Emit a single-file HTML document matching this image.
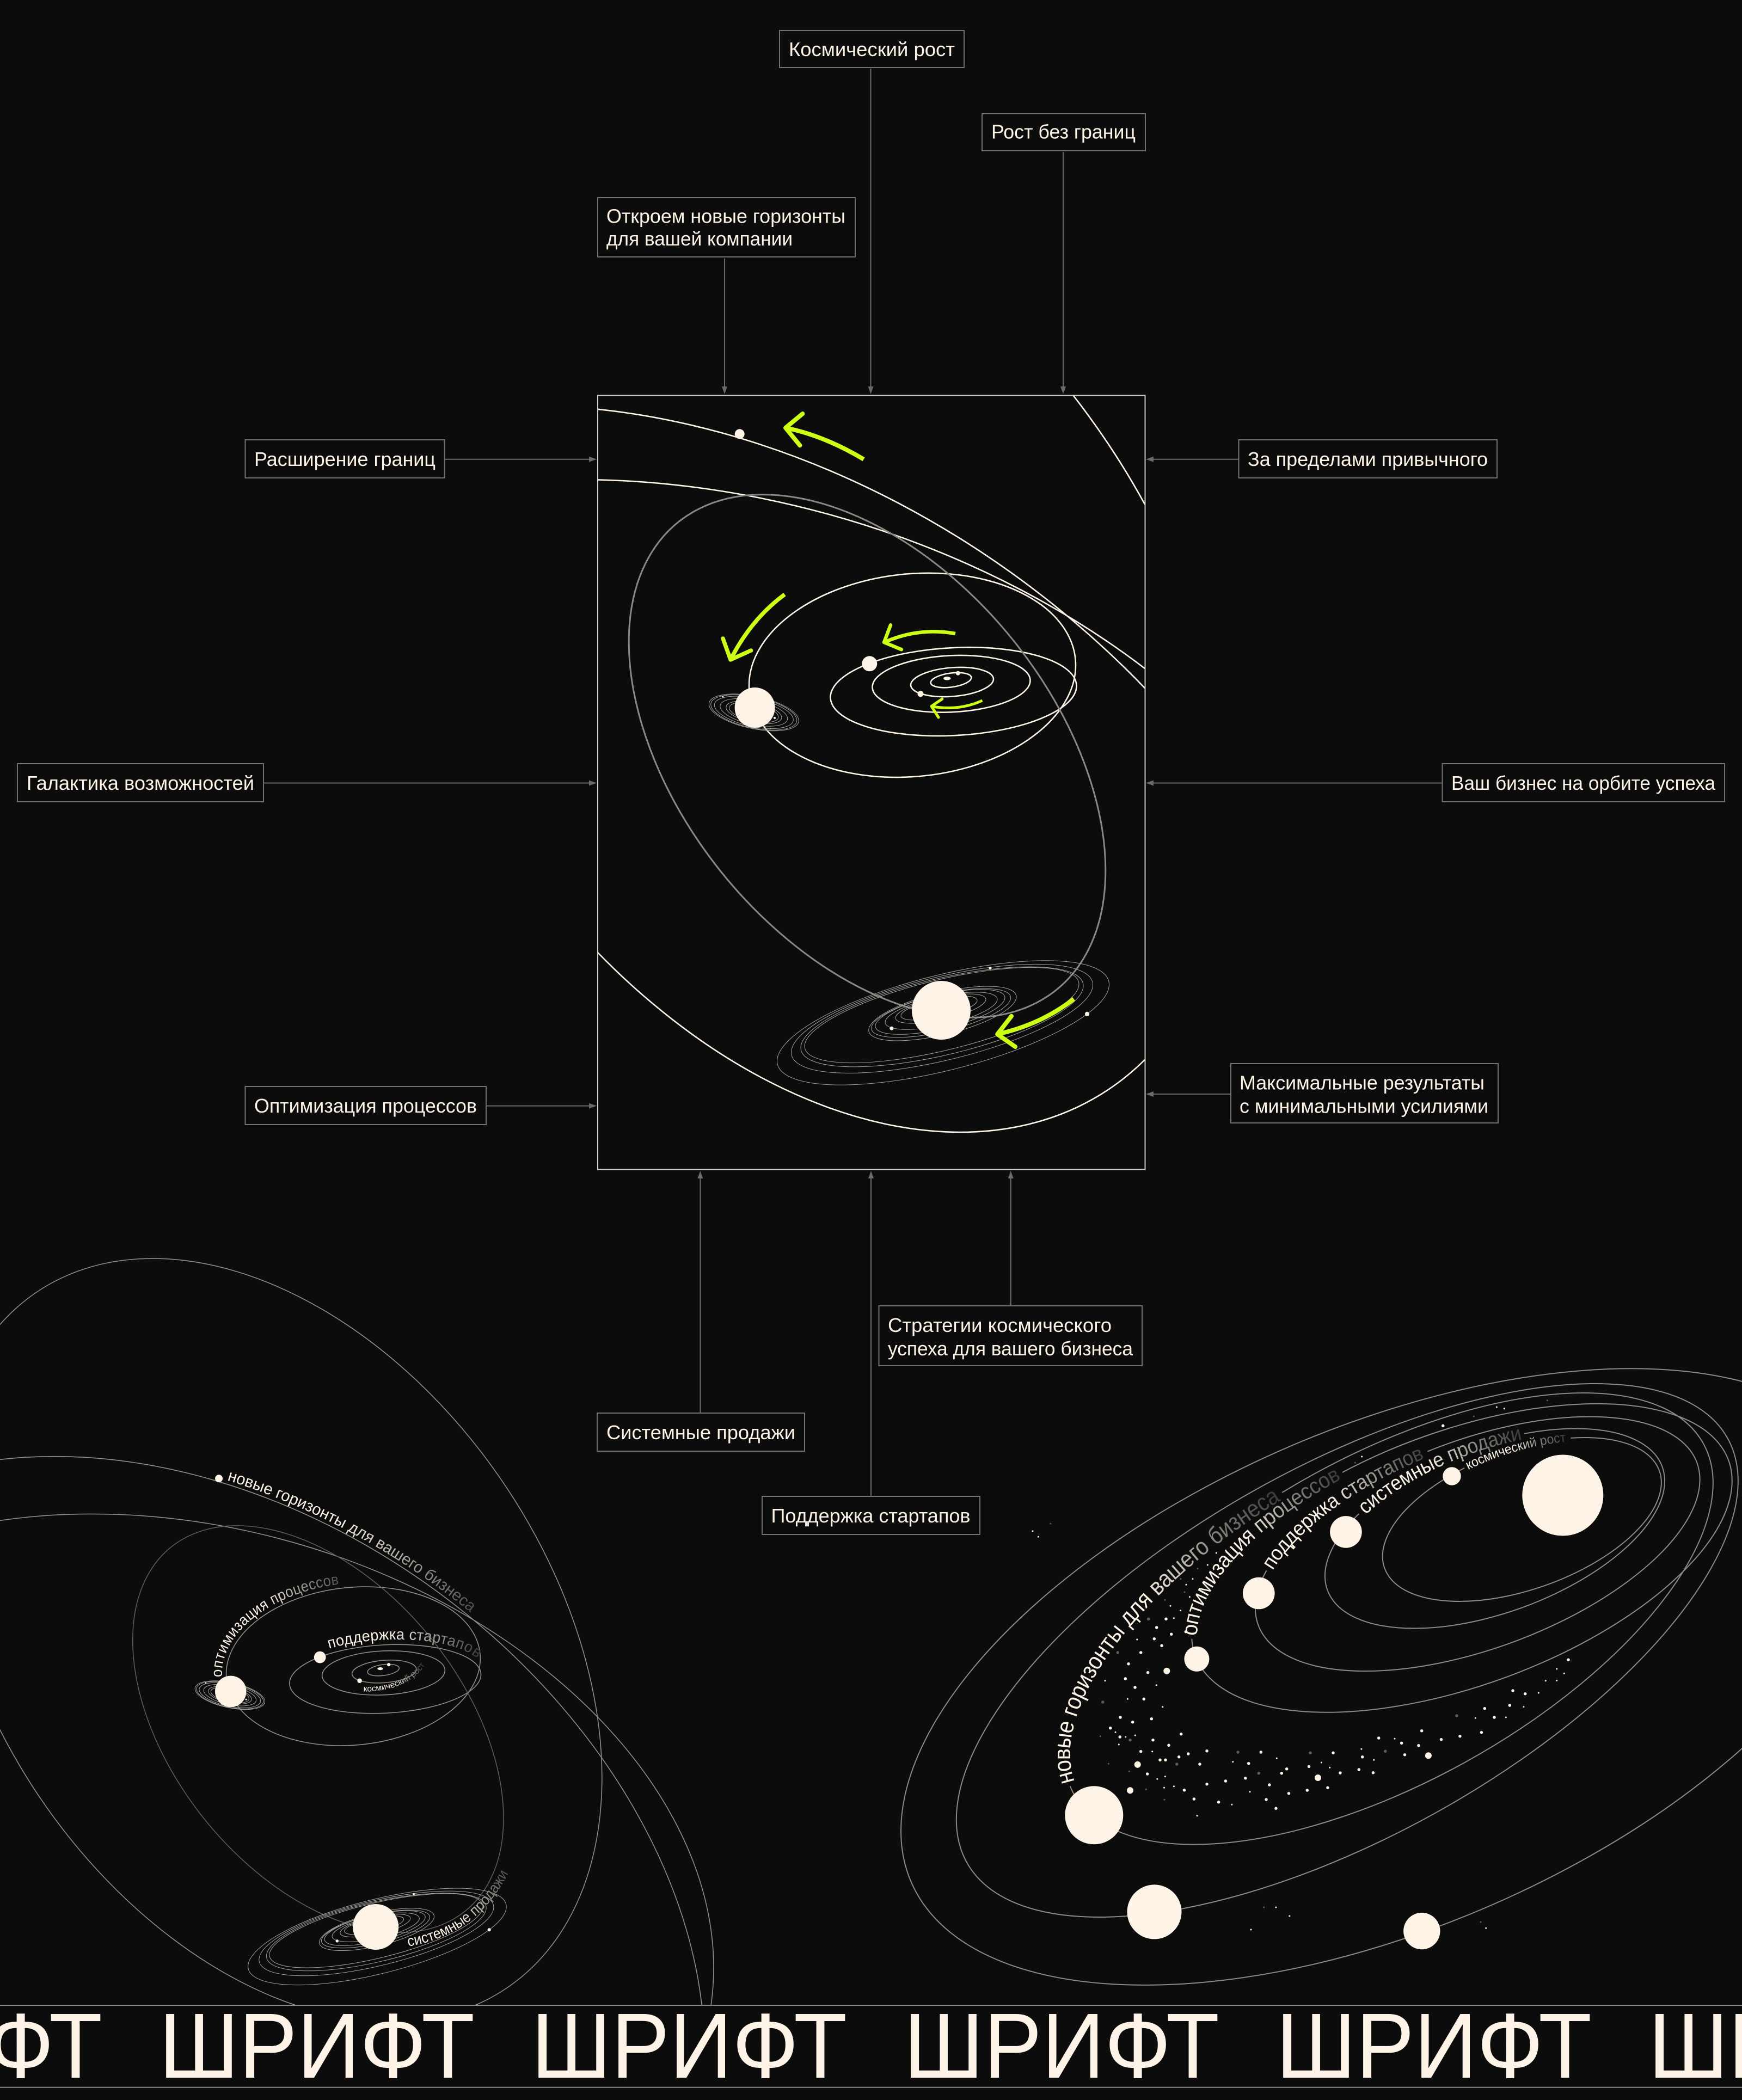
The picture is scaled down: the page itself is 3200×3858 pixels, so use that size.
<!DOCTYPE html>
<html lang="ru">
<head>
<meta charset="utf-8">
<title>Космический рост</title>
<style>
html,body{margin:0;padding:0;background:#0c0c0c;width:3200px;height:3858px;overflow:hidden}
svg{display:block}
text{font-family:"Liberation Sans","Noto Sans CJK SC",sans-serif}
.l{fill:#fdf4e7;font-size:36px}
.b{fill:none;stroke:#73726e;stroke-width:2}
.c{stroke:#6b6a67;stroke-width:2}
.h{fill:#6b6a67}
.o *,.o{vector-effect:non-scaling-stroke}
.y{fill:none;stroke:#ccff14;stroke-linejoin:round}
.t{fill:#fdf4e7;font-size:170px}
</style>
</head>
<body>
<svg xmlns="http://www.w3.org/2000/svg" width="3200" height="3858" viewBox="0 0 3200 3858">
<defs>
<clipPath id="cf"><rect x="1098" y="727" width="1005" height="1421"/></clipPath>
<clipPath id="cs"><rect x="0" y="2200" width="3200" height="1484"/></clipPath>

<g id="inner" class="o" fill="none">
<circle r="1" transform="matrix(300,-18.4,0,186.7,1676,1240.4)"/>
<circle r="1" transform="matrix(226,-10.3,0,80.7,1751.5,1270.6)"/>
<circle r="1" transform="matrix(145,-6,0,52,1747.5,1256.3)"/>
<circle r="1" transform="matrix(76,-5.4,0,26.5,1749,1253)"/>
<circle r="1" transform="matrix(37.3,-4.5,0,13,1747,1249.5)"/>
</g>
<circle id="greyorb" class="o" fill="none" r="1" transform="matrix(437.8,210,0,432,1593,1389)"/>

<g id="rings" class="o" fill="none" stroke="#a5a39d" stroke-width="1">
<circle r="1" transform="matrix(305,-70.3,0,90,1732.5,1879)"/>
<circle r="1" transform="matrix(277,-62,0,78.5,1730.5,1871.4)"/>
<circle r="1" transform="matrix(259.5,-57,0,72,1730.5,1868)"/>
<circle r="1" transform="matrix(252,-57,0,66.5,1730,1865)"/>
<circle r="1" transform="matrix(135.6,-30.5,0,39.6,1731.4,1862)"/>
<circle r="1" transform="matrix(128,-28,0,35,1728.7,1861)"/>
<circle r="1" transform="matrix(119,-26,0,32,1727,1859)"/>
<circle r="1" transform="matrix(103,-21,0,27,1729,1857)"/>
<circle r="1" transform="matrix(83,-17,0,21,1728,1853)"/>
<circle r="1" transform="matrix(70,-14,0,17,1725,1852)"/>
<circle r="1" transform="matrix(82.5,15.2,0,30.2,1384.8,1308.8)"/>
<circle r="1" transform="matrix(79,14.6,0,28.9,1384.8,1308.8)"/>
<circle r="1" transform="matrix(72.5,13.4,0,26.5,1384.8,1308.8)"/>
<circle r="1" transform="matrix(62,11.4,0,22.7,1384.8,1308.8)"/>
<circle r="1" transform="matrix(51,9.4,0,18.7,1384.8,1308.8)"/>
<circle r="1" transform="matrix(45,8.3,0,16.5,1384.8,1308.8)"/>
</g>

<g id="planets" fill="#fdf4e7">
<circle cx="1358.7" cy="797.3" r="9"/>
<circle cx="1386.6" cy="1300" r="37"/>
<circle cx="1597.3" cy="1219.3" r="14"/>
<circle cx="1691" cy="1274.7" r="5.5"/>
<circle cx="1759.8" cy="1236.7" r="4"/>
<ellipse cx="1739.7" cy="1246.3" rx="6.7" ry="3.3"/>
<circle cx="1327.7" cy="1280" r="1.5"/>
<circle cx="1423" cy="1319" r="2"/>
<circle cx="1729" cy="1856" r="54"/>
<circle cx="1637.9" cy="1889.3" r="3.5"/>
<circle cx="1818.9" cy="1778.6" r="2.5"/>
<circle cx="1997" cy="1862.8" r="4"/>
</g>

<path id="pa" d="M.043 -.999A1 1 0 0 1 .58 -.8146" transform="matrix(1181,324,0,1030.2,1324.3,1825)"/>
<path id="pb" d="M-.999 .04A1 1 0 0 1 .12 -.9928" transform="matrix(300,-18.4,0,186.7,1676,1240.4)"/>
<path id="pc" d="M-.573 -.82A1 1 0 0 1 .967 -.255" transform="matrix(226,-10.3,0,80.7,1751.5,1270.6)"/>
<path id="pd" d="M1700 1300C1750 1302 1815 1285 1845 1238"/>
<path id="pe" d="M1806 1902C1880 1890 1995 1850 2058 1695"/>

<path id="t1" d="M-.4126 -.9109A1 1 0 0 1 .35 -.937" transform="matrix(256,-67.7,0,134.4,2795.7,2791.5)"/>
<path id="t2" d="M-.8007 -.5992A1 1 0 0 1 .1739 -.9848" transform="matrix(312,-87.2,0,161.5,2746,2808)"/>
<path id="t3" d="M-.95 -.313A1 1 0 0 1 -.226 -.974" transform="matrix(408.3,-118,0,201.7,2714.4,2836.3)"/>
<path id="t4" d="M-.9996 .027A1 1 0 0 1 -.4424 -.897" transform="matrix(496.3,-141.7,0,245.4,2685.4,2862.4)"/>
<path id="t5" d="M-.982 .1908A1 1 0 0 1 -.3 -.954" transform="matrix(596,-248.8,0,331.8,2551,2973.7)"/>

<linearGradient id="g1" gradientUnits="userSpaceOnUse" x1="2693" y1="2700" x2="2880" y2="2642"><stop offset=".45" stop-color="#fdf4e7"/><stop offset=".72" stop-color="#8a8882"/><stop offset="1" stop-color="#3c3c3a"/></linearGradient>
<linearGradient id="g2" gradientUnits="userSpaceOnUse" x1="2502" y1="2782" x2="2792" y2="2637"><stop offset=".45" stop-color="#fdf4e7"/><stop offset=".75" stop-color="#8a8882"/><stop offset="1" stop-color="#3c3c3a"/></linearGradient>
<linearGradient id="g3" gradientUnits="userSpaceOnUse" x1="2329" y1="2885" x2="2617" y2="2670"><stop offset=".45" stop-color="#fdf4e7"/><stop offset=".75" stop-color="#8a8882"/><stop offset="1" stop-color="#3c3c3a"/></linearGradient>
<linearGradient id="g4" gradientUnits="userSpaceOnUse" x1="2189" y1="3011" x2="2465" y2="2720"><stop offset=".5" stop-color="#fdf4e7"/><stop offset=".78" stop-color="#8a8882"/><stop offset="1" stop-color="#3c3c3a"/></linearGradient>
<linearGradient id="g5" gradientUnits="userSpaceOnUse" x1="1961" y1="3283" x2="2350" y2="2757"><stop offset=".55" stop-color="#fdf4e7"/><stop offset=".8" stop-color="#8a8882"/><stop offset="1" stop-color="#3c3c3a"/></linearGradient>
<linearGradient id="ga" gradientUnits="userSpaceOnUse" x1="1375" y1="800" x2="1985" y2="1145"><stop offset=".4" stop-color="#fdf4e7"/><stop offset=".75" stop-color="#8a8882"/><stop offset="1" stop-color="#3c3c3a"/></linearGradient>
<linearGradient id="gb" gradientUnits="userSpaceOnUse" x1="1374" y1="1238" x2="1684" y2="1056"><stop offset=".4" stop-color="#fdf4e7"/><stop offset=".75" stop-color="#8a8882"/><stop offset="1" stop-color="#3c3c3a"/></linearGradient>
<linearGradient id="gc" gradientUnits="userSpaceOnUse" x1="1622" y1="1210" x2="1970" y2="1240"><stop offset=".4" stop-color="#fdf4e7"/><stop offset=".75" stop-color="#8a8882"/><stop offset="1" stop-color="#3c3c3a"/></linearGradient>
<linearGradient id="gd" gradientUnits="userSpaceOnUse" x1="1700" y1="1300" x2="1845" y2="1238"><stop offset=".45" stop-color="#fdf4e7"/><stop offset=".75" stop-color="#8a8882"/><stop offset="1" stop-color="#3c3c3a"/></linearGradient>
<linearGradient id="ge" gradientUnits="userSpaceOnUse" x1="1806" y1="1902" x2="2050" y2="1712"><stop offset=".4" stop-color="#fdf4e7"/><stop offset=".72" stop-color="#8a8882"/><stop offset="1" stop-color="#3c3c3a"/></linearGradient>
</defs>

<rect width="3200" height="3858" fill="#0c0c0c"/>

<!-- main frame -->
<g clip-path="url(#cf)">
<g class="o" fill="none" stroke="#fdf4e7" stroke-width="2.6">
<circle r="1" transform="matrix(780,324.4,0,840.8,1483,1178.8)"/>
<circle r="1" transform="matrix(1181,324,0,1030.2,1324.3,1825)"/>
<circle r="1" transform="matrix(1222.5,178.6,0,875,1304.5,1774)"/>
</g>
<use href="#inner" stroke="#fdf4e7" stroke-width="2.6"/>
<use href="#greyorb" stroke="#8a8882" stroke-width="3"/>
<use href="#rings"/>
<use href="#planets"/>
<g class="y" stroke-linecap="butt">
<path d="M1586.6 843.8Q1513 800 1443 786" stroke-width="8"/>
<path d="M1441.4 1092Q1379.7 1137.5 1342 1212" stroke-width="7.5"/>
<path d="M1755 1164Q1688 1152 1624 1180" stroke-width="6.5"/>
<path d="M1804.5 1287Q1759.8 1307 1711 1297.5" stroke-width="5"/>
<path d="M1972.5 1835.2Q1912.8 1882 1832.2 1900" stroke-width="8"/>
</g>
<g class="y" stroke-linecap="round">
<path d="M1474.4 760L1443 786L1469.5 818.3" stroke-width="8"/>
<path d="M1328 1173L1342 1212L1379.5 1195" stroke-width="7.5"/>
<path d="M1636 1148.3L1624 1180L1656 1193.3" stroke-width="6.5"/>
<path d="M1730.8 1284L1711 1297.5L1724 1318" stroke-width="5"/>
<path d="M1858 1866.8L1832.2 1900L1865 1923" stroke-width="8"/>
</g>
</g>
<rect x="1098" y="726.5" width="1005.5" height="1422" fill="none" stroke="#d6d2c9" stroke-width="2"/>

<!-- label boxes -->
<g class="b">
<rect x="1432" y="56" width="339" height="68"/>
<rect x="1804" y="209" width="300" height="68"/>
<rect x="1098" y="363" width="473" height="109"/>
<rect x="450.5" y="808" width="366" height="70"/>
<rect x="2275.5" y="808" width="474.5" height="70"/>
<rect x="32" y="1403" width="452" height="70"/>
<rect x="2649.5" y="1403" width="518.5" height="70"/>
<rect x="450.5" y="1996" width="442.5" height="70"/>
<rect x="2261" y="1954" width="491" height="109"/>
<rect x="1614.5" y="2399" width="483.5" height="110"/>
<rect x="1097" y="2596" width="381" height="70"/>
<rect x="1400" y="2749" width="400" height="70"/>
</g>
<text class="l" x="1449" y="102.8" textLength="305" lengthAdjust="spacingAndGlyphs">Космический рост</text>
<text class="l" x="1821" y="254.5" textLength="265" lengthAdjust="spacingAndGlyphs">Рост без границ</text>
<text class="l" x="1114" y="409.6" textLength="439" lengthAdjust="spacingAndGlyphs">Откроем новые горизонты</text>
<text class="l" x="1114" y="450.8" textLength="342" lengthAdjust="spacingAndGlyphs">для вашей компании</text>
<text class="l" x="467" y="856" textLength="333" lengthAdjust="spacingAndGlyphs">Расширение границ</text>
<text class="l" x="2292" y="856" textLength="441" lengthAdjust="spacingAndGlyphs">За пределами привычного</text>
<text class="l" x="49" y="1451" textLength="418" lengthAdjust="spacingAndGlyphs">Галактика возможностей</text>
<text class="l" x="2666" y="1451" textLength="485" lengthAdjust="spacingAndGlyphs">Ваш бизнес на орбите успеха</text>
<text class="l" x="467" y="2044" textLength="409" lengthAdjust="spacingAndGlyphs">Оптимизация процессов</text>
<text class="l" x="2277" y="2001.5" textLength="450" lengthAdjust="spacingAndGlyphs">Максимальные результаты</text>
<text class="l" x="2277" y="2044.5" textLength="457" lengthAdjust="spacingAndGlyphs">с минимальными усилиями</text>
<text class="l" x="1631" y="2447" textLength="411" lengthAdjust="spacingAndGlyphs">Стратегии космического</text>
<text class="l" x="1631" y="2490" textLength="450" lengthAdjust="spacingAndGlyphs">успеха для вашего бизнеса</text>
<text class="l" x="1114" y="2644" textLength="347" lengthAdjust="spacingAndGlyphs">Системные продажи</text>
<text class="l" x="1416.5" y="2797" textLength="366" lengthAdjust="spacingAndGlyphs">Поддержка стартапов</text>

<!-- connectors -->
<g class="c">
<line x1="1331" y1="475" x2="1331" y2="712"/>
<line x1="1599.5" y1="126" x2="1599.5" y2="712"/>
<line x1="1953" y1="279" x2="1953" y2="712"/>
<line x1="816" y1="843.7" x2="1084" y2="843.7"/>
<line x1="2117" y1="843.7" x2="2275" y2="843.7"/>
<line x1="484" y1="1438.5" x2="1084" y2="1438.5"/>
<line x1="2117" y1="1438.5" x2="2649" y2="1438.5"/>
<line x1="893" y1="2031.6" x2="1084" y2="2031.6"/>
<line x1="2117" y1="2010" x2="2260" y2="2010"/>
<line x1="1286.4" y1="2163" x2="1286.4" y2="2596"/>
<line x1="1600" y1="2163" x2="1600" y2="2749"/>
<line x1="1856.7" y1="2163" x2="1856.7" y2="2399"/>
</g>
<g class="h">
<path d="M1326 710h10l-5 14z"/>
<path d="M1594.5 710h10l-5 14z"/>
<path d="M1948 710h10l-5 14z"/>
<path d="M1082 838.7v10l14 -5z"/>
<path d="M2119 838.7v10l-14 -5z"/>
<path d="M1082 1433.5v10l14 -5z"/>
<path d="M2119 1433.5v10l-14 -5z"/>
<path d="M1082 2026.6v10l14 -5z"/>
<path d="M2119 2005v10l-14 -5z"/>
<path d="M1281.4 2165h10l-5 -14z"/>
<path d="M1595 2165h10l-5 -14z"/>
<path d="M1851.7 2165h10l-5 -14z"/>
</g>

<!-- bottom-left copy -->
<g clip-path="url(#cs)">
<g transform="matrix(.778 0 0 .778 -655 2096)">
<g class="o" fill="none" stroke="#8f8d87" stroke-width="1.6">
<path d="M.549 .836A1 1 0 1 0 .1547 .988" transform="matrix(780,324.4,0,840.8,1483,1178.8)"/>
<path d="M-.42 -.9075A1 1 0 0 1 .9968 -.08" transform="matrix(1181,324,0,1030.2,1324.3,1825)"/>
<path d="M-.4 -.9165A1 1 0 0 1 .9915 .13" transform="matrix(1222.5,178.6,0,875,1304.5,1774)"/>
</g>
<use href="#inner" stroke="#8f8d87" stroke-width="1.6"/>
<use href="#greyorb" stroke="#5c5b58" stroke-width="1.6"/>
<use href="#rings"/>
<use href="#planets"/>
<text font-size="38" fill="url(#ga)" dy="-9"><textPath href="#pa" textLength="655" lengthAdjust="spacingAndGlyphs">новые горизонты для вашего бизнеса</textPath></text>
<text font-size="36" fill="url(#gb)" dy="-10"><textPath href="#pb" textLength="370" lengthAdjust="spacingAndGlyphs">оптимизация процессов</textPath></text>
<text font-size="36" fill="url(#gc)" dy="-12"><textPath href="#pc" textLength="350" lengthAdjust="spacingAndGlyphs">поддержка стартапов</textPath></text>
<text font-size="20" fill="url(#gd)"><textPath href="#pd" textLength="165" lengthAdjust="spacingAndGlyphs">космический рост</textPath></text>
<text font-size="35" fill="url(#ge)"><textPath href="#pe" textLength="305" lengthAdjust="spacingAndGlyphs">системные продажи</textPath></text>
</g>
</g>

<!-- right galaxy -->
<g class="o" fill="none" stroke="#8c8a84" stroke-width="2">
<path d="M.35 -.937A1 1 0 1 1 -.4126 -.9109" transform="matrix(256,-67.7,0,134.4,2795.7,2791.5)"/>
<path d="M.1739 -.9848A1 1 0 1 1 -.8007 -.5992" transform="matrix(312,-87.2,0,161.5,2746,2808)"/>
<path d="M-.226 -.974A1 1 0 1 1 -.95 -.313" transform="matrix(408.3,-118,0,201.7,2714.4,2836.3)"/>
<path d="M-.4424 -.897A1 1 0 1 1 -.9996 .027" transform="matrix(496.3,-141.7,0,245.4,2685.4,2862.4)"/>
<path d="M-.3286 -.9446A1 1 0 1 1 -.982 .1908" transform="matrix(596,-248.8,0,331.8,2551,2973.7)"/>
<circle r="1" transform="matrix(718,-311,0,378.6,2474.8,3032)"/>
<circle r="1" transform="matrix(895,-283,0,490.5,2550,3080.6)"/>
</g>
<text font-size="24" fill="url(#g1)" dy="6" dx="5"><textPath href="#t1" textLength="190" lengthAdjust="spacingAndGlyphs">космический рост</textPath></text>
<text font-size="38" fill="url(#g2)" dy="10" dx="8"><textPath href="#t2" textLength="328" lengthAdjust="spacingAndGlyphs">системные продажи</textPath></text>
<text font-size="38" fill="url(#g3)" dy="10" dx="6"><textPath href="#t3" textLength="358" lengthAdjust="spacingAndGlyphs">поддержка стартапов</textPath></text>
<text font-size="40" fill="url(#g4)" dy="10" dx="6"><textPath href="#t4" textLength="417" lengthAdjust="spacingAndGlyphs">оптимизация процессов</textPath></text>
<text font-size="44" fill="url(#g5)" dy="11" dx="6"><textPath href="#t5" textLength="692" lengthAdjust="spacingAndGlyphs">новые горизонты для вашего бизнеса</textPath></text>
<g fill="#fdf4e7">
<circle cx="2870.8" cy="2747" r="74.5"/>
<circle cx="2667" cy="2711.9" r="16.7"/>
<circle cx="2472.4" cy="2814.4" r="29.3"/>
<circle cx="2312.3" cy="2927" r="29.3"/>
<circle cx="2198.4" cy="3047.8" r="23"/>
<circle cx="2009.8" cy="3334.8" r="53.5"/>
<circle cx="2120.5" cy="3512.4" r="50"/>
<circle cx="2611.8" cy="3547.6" r="33.7"/>
</g>

<!-- stars -->
<g fill="none" stroke-linecap="round">
<path stroke="#fdf4e7" stroke-width="12" d="M2143.3 3069.7h.01M2089.7 3241.7h.01M2421 3266h.01M2623.9 3225.3h.01M2076 3289.3h.01"/>
<path stroke="#fdf4e7" stroke-width="5.5" d="M2142 2974.3h.01M2124.7 2990h.01M2178.3 2997.7h.01M2151.7 3002.3h.01M2120.3 3010.7h.01M2134 3023.3h.01M2095.7 3036h.01M2073 3056.7h.01M2108.7 3072.7h.01M2067.3 3084h.01M2085 3100h.01M2101.3 3121.3h.01M2058 3155h.01M2115.3 3157.7h.01M2080.7 3163.7h.01M2039.7 3174.7h.01M2057.3 3191h.01M2169.7 3185.7h.01M2118 3196.7h.01M2147 3206.3h.01M2095.7 3217.7h.01M2217 3216.7h.01M2182.7 3222h.01M2165.7 3227.7h.01M2131 3233.3h.01M2141 3233.3h.01M2316.3 3219h.01M2204 3241h.01M2293.7 3239.7h.01M2363.7 3249.7h.01M2107.7 3259h.01M2354.3 3257.7h.01M2287.8 3266.7h.01M2251.4 3272h.01M2404.5 3245.3h.01M2461.9 3257h.01M2496.3 3251h.01M2522.4 3256.7h.01M2502.7 3227.7h.01M2449 3220.3h.01M2580.5 3223.7h.01M2532.7 3193h.01M2574.7 3202.3h.01M2606 3206.7h.01M2647.4 3195.7h.01M2681.9 3189.7h.01M2611.7 3179.7h.01M2721.4 3182.7h.01M2331.8 3279h.01M2367.5 3294.7h.01M2401.3 3289h.01M2438.9 3284.3h.01M2217 3277.7h.01M2175.5 3288.7h.01M2193.4 3305h.01M2238.6 3310.7h.01M2326 3306h.01M2343.9 3322.3h.01M2881 3049.3h.01M2779 3106h.01M2801.7 3111.7h.01M2773.3 3133h.01M2727.3 3138.7h.01M2745 3155h.01M2650.7 2619.3h.01"/>
<path stroke="#fdf4e7" stroke-width="3" d="M1907.3 2823.3h.01M2234.3 2853h.01M2251.7 2848.3h.01M2218.3 2875h.01M2191 2900.7h.01M2179 2911.3h.01M2185.3 2933.7h.01M2150 2950.3h.01M2168.7 2958.7h.01M2156.3 2972.7h.01M2088.7 3012h.01M2030 3087.7h.01M2124.3 3095.7h.01M2071.3 3121.3h.01M2135.7 3135.7h.01M2049 3182.3h.01M2067.7 3191h.01M2085.3 3188h.01M2055.3 3205h.01M2116.7 3217.7h.01M2345.3 3230.3h.01M2264.7 3236.7h.01M2140.4 3263.7h.01M2125.8 3268.3h.01M2427.4 3238h.01M2442.7 3247.3h.01M2523.7 3233.3h.01M2500.8 3213.3h.01M2562 3194.3h.01M2156.4 3281.7h.01M2138.5 3284.3h.01M2262.9 3315.3h.01M2296 3291.7h.01M2199 3335.7h.01M2859.7 3066h.01M2873.3 3074.3h.01M2839.3 3087.7h.01M2859.7 3087.3h.01M2826.3 3110h.01M2799 3135.7h.01M2766.3 3155h.01M2710.3 3156.3h.01M2721.3 3182.7h.01M2343.9 3504h.01M2368.8 3520h.01M2298 3545h.01M2729.7 3542.3h.01M2749.3 2585h.01M2763.3 2587.7h.01M2501.7 2676h.01M1897 2812.9h.01"/>
<path stroke="#5e5d5a" stroke-width="5.5" d="M2109.7 2974.3h.01M2053.3 3036h.01M2025.7 3127h.01M2076 3196.7h.01M2274 3219h.01M2161.7 3241h.01M2312.3 3257.7h.01M2544.8 3217.3h.01M2407 3220.3h.01M2676 3152h.01"/>
<path stroke="#5e5d5a" stroke-width="3" d="M1929.7 2799.3h.01M2200 2881.7h.01M2169 2900.7h.01M2176 2925h.01M2140 2939.3h.01M2021.3 3189.7h.01M2036.3 3240.3h.01M2074.3 3254.3h.01M2105.4 3287.3h.01M2139 3306.3h.01M2321.6 3504h.01M2720 3531.3h.01M2842.3 2572.7h.01M2707.3 2602h.01M2489.3 2687.3h.01"/>
</g>

<!-- ticker -->
<line x1="0" y1="3684" x2="3200" y2="3684" stroke="#8a8882" stroke-width="2"/>
<line x1="0" y1="3834.7" x2="3200" y2="3834.7" stroke="#8a8882" stroke-width="2"/>
<text class="t" x="-392" y="3817" textLength="580" lengthAdjust="spacingAndGlyphs">ШРИФТ</text>
<text class="t" x="292" y="3817" textLength="580" lengthAdjust="spacingAndGlyphs">ШРИФТ</text>
<text class="t" x="976" y="3817" textLength="580" lengthAdjust="spacingAndGlyphs">ШРИФТ</text>
<text class="t" x="1660" y="3817" textLength="580" lengthAdjust="spacingAndGlyphs">ШРИФТ</text>
<text class="t" x="2344" y="3817" textLength="580" lengthAdjust="spacingAndGlyphs">ШРИФТ</text>
<text class="t" x="3028" y="3817" textLength="580" lengthAdjust="spacingAndGlyphs">ШРИФТ</text>
</svg>
</body>
</html>
